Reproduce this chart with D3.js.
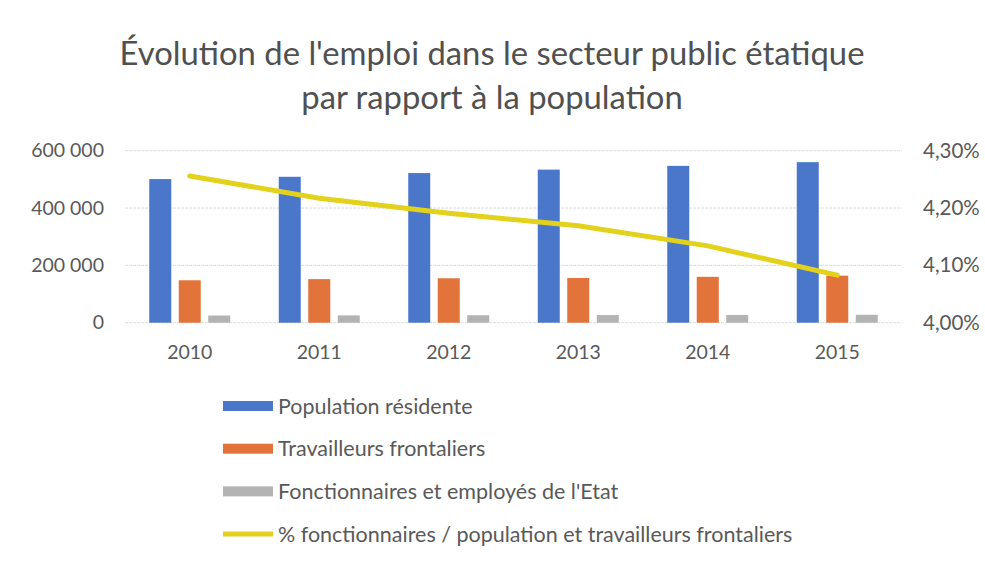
<!DOCTYPE html>
<html>
<head>
<meta charset="utf-8">
<script src="https://cdn.jsdelivr.net/npm/d3@7"></script>
<style>
  body { margin: 0; background: #fff; }
  svg { font-family: Lato, "Open Sans", sans-serif; }
  .title { fill: #505050; }
  .tick text { fill: #595959; }
  .legend text { fill: #595959; }
</style>
</head>
<body>
<svg id="chart" width="985" height="563"></svg>
<script>
// data
var years = ["2010", "2011", "2012", "2013", "2014", "2015"];
var population = [501000, 509000, 522000, 534000, 547000, 560000];
var frontaliers = [148000, 152000, 155000, 156000, 160000, 164000];
var fonctionnaires = [25000, 25500, 26000, 26500, 27000, 27500];
var pctFonct = [0.04256, 0.04217, 0.04191, 0.04169, 0.04134, 0.04083];

var seriesNames = ["Population résidente", "Travailleurs frontaliers", "Fonctionnaires et employés de l'Etat"];
var lineName = "% fonctionnaires / population et travailleurs frontaliers";
var leftTicks = [0, 200000, 400000, 600000];
var rightTicks = [0.04, 0.041, 0.042, 0.043];
var titleLines = ["Évolution de l'emploi dans le secteur public étatique", "par rapport à la population"];

var colors = ["#4a77c9", "#e2733a", "#b3b3b3"];
var lineColor = "#e3d21c";

var fr = d3.formatLocale({decimal: ",", thousands: " ", grouping: [3], currency: ["", " €"]});

function drawChart() {
    var svg = d3.select("#chart");
    var plotLeft = 125, plotRight = 902, plotTop = 150.7, plotBottom = 322.7;

    // title
    svg.selectAll(".title")
        .data(titleLines)
        .enter()
        .append("text")
        .attr("class", "title")
        .attr("x", 492)
        .attr("y", function(d, i) { return 65 + i * 44; })
        .attr("text-anchor", "middle")
        .attr("font-size", 32.8)
        .text(function(d) { return d; });

    var x = d3.scaleBand().domain(years).range([plotLeft, plotRight]);
    var inner = d3.scaleBand().domain([0, 1, 2]).range([-40.5, 40.5]).paddingInner(0.254);
    var y = d3.scaleLinear().domain([0, 600000]).range([plotBottom, plotTop]);
    var y2 = d3.scaleLinear().domain([0.04, 0.043]).range([plotBottom, plotTop]);

    // gridlines
    svg.append("g")
        .selectAll("line")
        .data(leftTicks)
        .enter()
        .append("line")
        .attr("x1", plotLeft)
        .attr("x2", plotRight)
        .attr("y1", function(d) { return y(d); })
        .attr("y2", function(d) { return y(d); })
        .attr("stroke", "#dcdcdc")
        .attr("stroke-width", 1)
        .attr("stroke-dasharray", "3,1");

    // axes
    var yAxis = d3.axisLeft(y).tickValues(leftTicks).tickSize(0).tickPadding(21)
        .tickFormat(fr.format(",.0f"));
    svg.append("g")
        .attr("transform", "translate(" + plotLeft + ",0)")
        .call(yAxis)
        .call(function(g) { g.select(".domain").remove(); })
        .selectAll("text")
        .attr("font-size", 19.5)
        .attr("font-family", "Lato");

    var y2Axis = d3.axisRight(y2).tickValues(rightTicks).tickSize(0).tickPadding(21)
        .tickFormat(fr.format(".2%"));
    svg.append("g")
        .attr("transform", "translate(" + plotRight + ",0)")
        .call(y2Axis)
        .call(function(g) { g.select(".domain").remove(); })
        .selectAll("text")
        .attr("font-size", 20.5)
        .attr("font-family", "Lato");

    var xAxis = d3.axisBottom(x).tickSize(0).tickPadding(22);
    svg.append("g")
        .attr("transform", "translate(0," + plotBottom + ")")
        .call(xAxis)
        .call(function(g) { g.select(".domain").remove(); })
        .selectAll("text")
        .attr("font-size", 19.5)
        .attr("font-family", "Lato");

    // bars
    var allSeries = [population, frontaliers, fonctionnaires];
    allSeries.forEach(function(vals, s) {
        svg.append("g")
            .selectAll("rect")
            .data(vals)
            .enter()
            .append("rect")
            .attr("x", function(d, i) { return x(years[i]) + x.bandwidth() / 2 + inner(s); })
            .attr("y", function(d) { return y(d); })
            .attr("width", inner.bandwidth())
            .attr("height", function(d) { return plotBottom - y(d); })
            .attr("fill", colors[s]);
    });

    // line
    var line = d3.line()
        .x(function(d, i) { return x(years[i]) + x.bandwidth() / 2; })
        .y(function(d) { return y2(d); });
    svg.append("path")
        .datum(pctFonct)
        .attr("d", line)
        .attr("fill", "none")
        .attr("stroke", lineColor)
        .attr("stroke-width", 5)
        .attr("stroke-linecap", "round")
        .attr("stroke-linejoin", "round");

    // legend
    var legend = svg.append("g").attr("class", "legend");
    var rows = seriesNames.concat([lineName]);
    rows.forEach(function(name, i) {
        var cy = 406 + i * 42.7;
        if (i < 3) {
            legend.append("rect")
                .attr("x", 223).attr("y", cy - 5)
                .attr("width", 50).attr("height", 10)
                .attr("fill", colors[i]);
        } else {
            legend.append("line")
                .attr("x1", 223).attr("x2", 273)
                .attr("y1", cy).attr("y2", cy)
                .attr("stroke", lineColor)
                .attr("stroke-width", 5);
        }
        legend.append("text")
            .attr("x", 278)
            .attr("y", cy)
            .attr("dy", "0.35em")
            .attr("font-size", 21.5)
            .text(name);
    });
}

drawChart();
</script>
</body>
</html>
